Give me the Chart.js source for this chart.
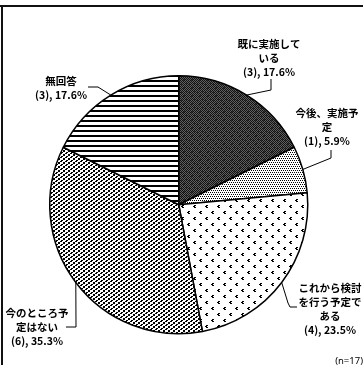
<!DOCTYPE html>
<html>
<head>
<meta charset="utf-8">
<script src="https://cdn.jsdelivr.net/npm/chart.js@4/dist/chart.umd.min.js"></script>
<style>
html,body{margin:0;padding:0;background:#fff;}
#wrap{position:relative;width:363px;height:365px;overflow:hidden;}
canvas{position:absolute;left:0;top:0;}
</style>
</head>
<body>
<div id="wrap"><canvas id="c" width="363" height="365"></canvas></div>
<script>
// ---- data ----
const categories = ['既に実施している', '今後、実施予定', 'これから検討を行う予定である', '今のところ予定はない', '無回答'];
const counts = [3, 1, 4, 6, 3];
const percents = [17.6, 5.9, 23.5, 35.3, 17.6];
const labelLines = [['既に実施して', 'いる'], ['今後、実施予', '定'], ['これから検討', 'を行う予定で', 'ある'], ['今のところ予', '定はない'], ['無回答']];
const sampleNote = '(n=17)';

// ---- layout (label positions / leader elbows) ----
const labelLayout = [
  {x: 269, y: 44, elbows: [[271, 90], [271, 79]]},
  {x: 327, y: 113, elbows: [[331, 158], [331, 150]]},
  {x: 330, y: 288, elbows: [[288, 303], [290, 307], [297, 307]]},
  {x: 37, y: 313, elbows: [[76, 327], [66, 327]]},
  {x: 61, y: 81, elbows: [[98, 87], [88, 87]]}
];
const lineGap = 14;
const FONT = 'bold 10.5px "Noto Sans CJK JP", "Noto Sans", sans-serif';

// ---- patterns ----
function makePattern(w, h, bg, draw) {
  const cv = document.createElement('canvas');
  cv.width = w; cv.height = h;
  const g = cv.getContext('2d');
  g.fillStyle = bg; g.fillRect(0, 0, w, h);
  draw(g);
  return document.getElementById('c').getContext('2d').createPattern(cv, 'repeat');
}
const pDark = makePattern(8, 8, '#606060', g => {
  for (let y = 0; y < 8; y++) for (let x = 0; x < 8; x++) {
    if ((x + y) % 2 === 0) { g.fillStyle = '#111'; g.fillRect(x, y, 1, 1); }
    else if ((x * 3 + y * 5) % 7 === 0) { g.fillStyle = '#333'; g.fillRect(x, y, 1, 1); }
  }
});
const pFine = makePattern(4, 4, '#fff', g => {
  g.fillStyle = '#000';
  [[0,0],[2,0],[1,2],[3,2]].forEach(p => g.fillRect(p[0], p[1], 1, 1));
});
const pSparse = makePattern(12, 12, '#fff', g => {
  g.fillStyle = '#000';
  const mark = (ox, oy) => {
    g.fillRect(ox + 1, oy, 2, 1);
    g.fillRect(ox, oy + 1, 2, 1);
    g.fillRect(ox + 1, oy + 2, 2, 1);
  };
  mark(1, 1); mark(7, 7);
});
const pWave = makePattern(5, 4, '#fff', g => {
  g.fillStyle = '#000';
  [[1,0],[2,0],[0,1],[1,1],[4,2],[3,3],[4,3],[3,2]].forEach(p => g.fillRect(p[0], p[1], 1, 1));
});
const pLines = makePattern(1, 5, '#fff', g => {
  g.fillStyle = '#000'; g.fillRect(0, 0, 1, 2);
});

// ---- plugin: frame, labels and leader lines ----
const labelPlugin = {
  id: 'labels',
  afterDraw(chart) {
    const ctx = chart.ctx;
    ctx.save();
    // frame
    ctx.fillStyle = '#111';
    ctx.fillRect(0, 5, 363, 2);
    ctx.fillRect(1, 5, 2, 360);

    const meta = chart.getDatasetMeta(0);
    ctx.strokeStyle = '#000';
    ctx.lineWidth = 1;
    ctx.font = FONT;
    ctx.fillStyle = '#000';
    ctx.textAlign = 'center';
    ctx.textBaseline = 'middle';
    meta.data.forEach((arc, i) => {
      const p = arc.getProps(['x', 'y', 'startAngle', 'endAngle', 'outerRadius'], true);
      const mid = (p.startAngle + p.endAngle) / 2;
      const ax = p.x + Math.cos(mid) * p.outerRadius;
      const ay = p.y + Math.sin(mid) * p.outerRadius;
      const L = labelLayout[i];
      ctx.beginPath();
      ctx.moveTo(ax, ay);
      L.elbows.forEach(e => ctx.lineTo(e[0], e[1]));
      ctx.stroke();
      const lines = labelLines[i].concat(['(' + counts[i] + '), ' + percents[i].toFixed(1) + '%']);
      lines.forEach((t, k) => ctx.fillText(t, L.x, L.y + k * lineGap));
    });
    ctx.textAlign = 'right';
    ctx.font = '9.5px "Noto Sans", sans-serif';
    ctx.fillText(sampleNote, 363, 361);
    ctx.restore();
  }
};

new Chart(document.getElementById('c'), {
  type: 'pie',
  data: {
    labels: categories,
    datasets: [{
      data: counts,
      backgroundColor: [pDark, pFine, pSparse, pWave, pLines],
      borderColor: '#000',
      borderWidth: 1.5
    }]
  },
  options: {
    responsive: false,
    animation: false,
    layout: {padding: {left: 49, right: 54.5, top: 75, bottom: 30.5}},
    plugins: {legend: {display: false}, tooltip: {enabled: false}}
  },
  plugins: [labelPlugin]
});
</script>
</body>
</html>
